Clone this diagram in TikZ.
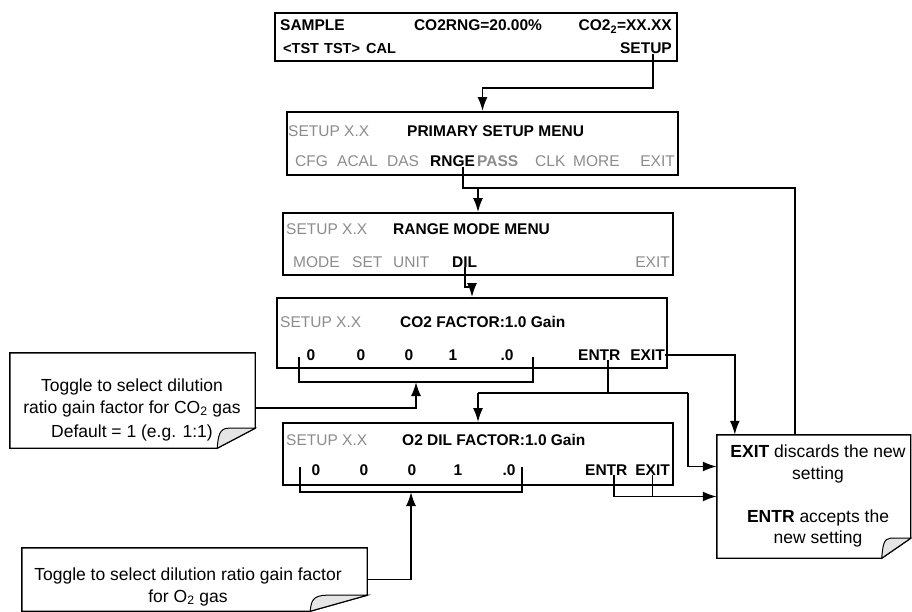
\documentclass[tikz,border=0pt]{standalone}
\usepackage{fontspec}
\setmainfont{Liberation Sans}
\usetikzlibrary{shapes,arrows,arrows.meta,calc}
\definecolor{dimgray}{gray}{0.55}
\newcommand{\lcdfont}{\fontsize{15.5}{18}\selectfont}
\newcommand{\smallfont}{\fontsize{14.5}{17}\selectfont}
\newcommand{\notefont}{\fontsize{17.5}{21.5}\selectfont}
\tikzstyle{lcd} = [rectangle, draw, line width=1.8pt, inner sep=0pt]
\tikzstyle{softkey} = [inner sep=0pt, anchor=base west, font=\lcdfont]
\tikzstyle{boldkey} = [softkey, font=\lcdfont\bfseries]
\tikzstyle{smallkey} = [softkey, font=\smallfont\bfseries]
\tikzstyle{dimkey} = [softkey, text=dimgray]
\tikzstyle{note} = [rectangle, inner sep=0pt]
\tikzstyle{notetext} = [align=center, font=\notefont, inner sep=0pt]
\tikzstyle{wire} = [line width=1.8pt]
\tikzstyle{flow} = [wire, -{Latex[length=14pt,width=10pt]}]
\tikzstyle{notebox} = [line width=1.4pt]
\tikzstyle{curl} = [line width=1pt, fill=gray!20]
% outline of a note with a folded corner
\newcommand{\dogear}[3]{%
  \draw[notebox] (#1.north west) -- (#1.north east) -- ($(#1.south east)+(0,-#3)$)
    -- ($(#1.south east)+(-#2,0)$) -- (#1.south west) -- cycle;
  \filldraw[curl] ($(#1.south east)+(-#2,0)$)
    .. controls ($(#1.south east)+(-#2+1,-#3*0.6)$) and ($(#1.south east)+(-#2+2,-#3)$)
    .. ($(#1.south east)+(-#2*0.7,-#3)$)
    .. controls ($(#1.south east)+(-#2*0.3,-#3)$) .. ($(#1.south east)+(0,-#3)$) -- cycle;
}
\begin{document}
\begin{tikzpicture}[x=1pt, y=-1pt]
		\useasboundingbox (0,0) rectangle (912,612);
		
		% displays
		\node [lcd, minimum width=402, minimum height=48] (sample) at (476,37) {};
		\node [boldkey] (samplekey) at (280,31) {SAMPLE};
		\node [boldkey, anchor=base] (rngkey) at (478,31) {CO2RNG=20.00\%};
		\node [boldkey, anchor=base east] (conckey) at (672,31) {CO2\textsubscript{2}=XX.XX};
		\node [smallkey] (tstlkey) at (283,54) {<TST};
		\node [smallkey] (tstrkey) at (324,54) {TST>};
		\node [smallkey] (calkey) at (366,54) {CAL};
		\node [boldkey, anchor=base east] (setupkey) at (672,54) {SETUP};
		
		\node [lcd, minimum width=391, minimum height=63] (prim) at (482.5,143.5) {};
		\node [dimkey] (primver) at (288,137) {SETUP X.X};
		\node [boldkey] (primtitle) at (407,137) {PRIMARY SETUP MENU};
		\node [dimkey] (cfgkey) at (295,167) {CFG};
		\node [dimkey] (acalkey) at (337,167) {ACAL};
		\node [dimkey] (daskey) at (387,167) {DAS};
		\node [boldkey] (rngekey) at (430,167) {RNGE};
		\node [boldkey, text=dimgray] (passkey) at (477,167) {PASS};
		\node [dimkey] (clkkey) at (535,167) {CLK};
		\node [dimkey] (morekey) at (573,167) {MORE};
		\node [dimkey, anchor=base east] (primexit) at (675,167) {EXIT};
		
		\node [lcd, minimum width=390, minimum height=62] (range) at (478,244) {};
		\node [dimkey] (rangever) at (286,235) {SETUP X.X};
		\node [boldkey] (rangetitle) at (393,235) {RANGE MODE MENU};
		\node [dimkey] (modekey) at (293,267) {MODE};
		\node [dimkey] (setkey) at (352,267) {SET};
		\node [dimkey] (unitkey) at (393,267) {UNIT};
		\node [boldkey] (dilkey) at (452,267) {DIL};
		\node [dimkey, anchor=base east] (rangeexit) at (670,267) {EXIT};
		
		\node [lcd, minimum width=390, minimum height=70] (co2) at (472,333) {};
		\node [dimkey] (co2ver) at (280,327) {SETUP X.X};
		\node [boldkey] (co2title) at (400,327) {CO2 FACTOR:1.0 Gain};
		\node [boldkey, anchor=base] (co2d1) at (311,360) {0};
		\node [boldkey, anchor=base] (co2d2) at (361,360) {0};
		\node [boldkey, anchor=base] (co2d3) at (409,360) {0};
		\node [boldkey, anchor=base] (co2d4) at (453,360) {1};
		\node [boldkey, anchor=base] (co2d5) at (507,360) {.0};
		\node [boldkey] (entra) at (578,360) {ENTR};
		\node [boldkey, anchor=base east] (exita) at (665,360) {EXIT};
		
		\node [lcd, minimum width=390, minimum height=62] (o2) at (478,454) {};
		\node [dimkey] (o2ver) at (286,445) {SETUP X.X};
		\node [boldkey] (o2title) at (402,445) {O2 DIL FACTOR:1.0 Gain};
		\node [boldkey, anchor=base] (o2d1) at (316,475) {0};
		\node [boldkey, anchor=base] (o2d2) at (364,475) {0};
		\node [boldkey, anchor=base] (o2d3) at (412,475) {0};
		\node [boldkey, anchor=base] (o2d4) at (458,475) {1};
		\node [boldkey, anchor=base] (o2d5) at (509,475) {.0};
		\node [boldkey] (entrb) at (585,475) {ENTR};
		\node [boldkey, anchor=base east] (exitb) at (670,475) {EXIT};
		
		% notes
		\node [note, minimum width=245, minimum height=95] (co2note) at (132.5,400.5) {};
		\dogear{co2note}{38}{20}
		\node [notetext] (co2text) at (132,410) {Toggle to select dilution\\
			ratio gain factor for CO\textsubscript{2} gas\\[3pt]
			Default = 1 (e.g. 1:1)};
		
		\node [note, minimum width=345, minimum height=63] (o2note) at (194.5,579.5) {};
		\dogear{o2note}{57}{16}
		\node [notetext] (o2text) at (188,587) {Toggle to select dilution ratio gain factor\\
			for O\textsubscript{2} gas};
		
		\node [note, minimum width=193.5, minimum height=123] (exitnote) at (813.75,496.5) {};
		\dogear{exitnote}{29}{20}
		\node [notetext] (exittext) at (818,496) {\textbf{EXIT} discards the new\\
			setting\\[21.5pt]
			\textbf{ENTR} accepts the\\
			new setting};
		
		% junctions
		\coordinate (j1) at (560,88);
		\coordinate (j2) at (463,188);
		\coordinate (j3) at (795,188);
		\coordinate (j4) at (472,287);
		\coordinate (j5) at (608,393);
		\coordinate (j5l) at (478,393);
		\coordinate (j5r) at (688,393);
		\coordinate (j6) at (614,496);
		\coordinate (br1l) at (299,357);
		\coordinate (br1r) at (533,357);
		\coordinate (br1m) at (416,382);
		\coordinate (br2l) at (300,467);
		\coordinate (br2r) at (522,467);
		\coordinate (br2m) at (411,492);
		
		\draw [flow] ($(setupkey.south)+(7,0)$) |- (j1) -| (prim.north);
		\draw [wire] (rngekey.south -| j2) -- (j2) -- (j3) -- (exitnote.north -| j3);
		\draw [flow] (range.north |- j2) -- (range.north);
		\draw [flow] (dilkey.south) |- (j4) -- (co2.north);
		
		\draw [wire] (br1l) |- (br1m) -| (br1r);
		\draw [flow] ($(co2note.east)+(0,7.5)$) -| (br1m);
		\draw [wire] (entra.south -| j5) -- (j5);
		\draw [wire] (j5l) -- (j5r);
		\draw [flow] (j5l) -- (o2.north);
		\draw [flow] (j5r) |- ($(exitnote.west)+(0,-30)$);
		\draw [flow] (exita.east) -| ($(exitnote.north west)+(18,0)$);
		
		\draw [wire] (br2l) |- (br2m) -| (br2r);
		\draw [flow] (o2note.east) -| (br2m);
		\draw [flow] (entrb.south -| j6) |- (exitnote.west);
		\draw [wire] (exitb.south) -- (exitb.south |- exitnote.west);
		
		\end{tikzpicture}
\end{document}
